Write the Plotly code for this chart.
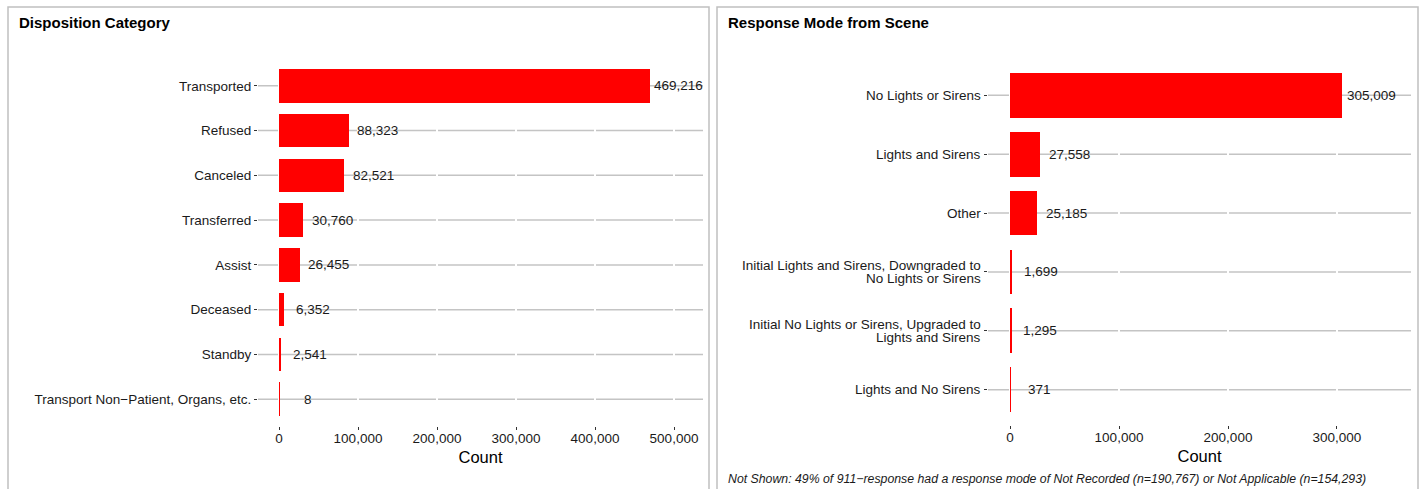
import plotly.graph_objects as go

# data
disp_cats = ["Transported", "Refused", "Canceled", "Transferred", "Assist",
             "Deceased", "Standby", "Transport Non\u2212Patient, Organs, etc."]
disp_counts = [469216, 88323, 82521, 30760, 26455, 6352, 2541, 8]

mode_cats = ["No Lights or Sirens", "Lights and Sirens", "Other",
             "Initial Lights and Sirens, Downgraded to<br>No Lights or Sirens",
             "Initial No Lights or Sirens, Upgraded to<br>Lights and Sirens",
             "Lights and No Sirens"]
mode_counts = [305009, 27558, 25185, 1699, 1295, 371]

disp_ticks = [0, 100000, 200000, 300000, 400000, 500000]
mode_ticks = [0, 100000, 200000, 300000]

caption = ("Not Shown: 49% of 911\u2212response had a response mode of "
           "Not Recorded (n=190,767) or Not Applicable (n=154,293)")

W, H = 1424, 489
FONT = "Liberation Sans, Arial, sans-serif"
GRID = "#c4c4c4"
TXT = "#1a1a1a"


def px(v):
    return v / W


def py(v):
    return 1 - v / H


fig = go.Figure()

fig.add_trace(go.Bar(y=disp_cats, x=disp_counts, orientation="h",
                     marker=dict(color="#ff0000", line=dict(width=0)),
                     width=0.75, xaxis="x", yaxis="y", hoverinfo="x+y"))
fig.add_trace(go.Bar(y=mode_cats, x=mode_counts, orientation="h",
                     marker=dict(color="#ff0000", line=dict(width=0)),
                     width=0.76, xaxis="x2", yaxis="y2", hoverinfo="x+y"))

annotations = []
for c, v in zip(disp_cats, disp_counts):
    annotations.append(dict(x=v, y=c, xref="x", yref="y", text=f"{v:,}",
                            showarrow=False, xanchor="center", xshift=29,
                            font=dict(size=13.5, color=TXT)))
for c, v in zip(mode_cats, mode_counts):
    annotations.append(dict(x=v, y=c, xref="x2", yref="y2", text=f"{v:,}",
                            showarrow=False, xanchor="center", xshift=29,
                            font=dict(size=13.5, color=TXT)))

# right panel category labels, one annotation per line for tighter spacing
for c in mode_cats:
    lines = c.split("<br>")
    n = len(lines)
    for i, line in enumerate(lines):
        annotations.append(dict(x=0, y=c, xref="x2 domain", yref="y2",
                                text=line, showarrow=False, xanchor="right",
                                yanchor="middle", xshift=-5,
                                yshift=((n - 1) / 2 - i) * 13.6,
                                font=dict(size=13.5, color=TXT)))

# panel titles and caption
annotations.append(dict(x=px(17), y=py(22), xref="paper", yref="paper",
                        text="<b>Disposition Category</b>", showarrow=False,
                        xanchor="left", yanchor="middle",
                        font=dict(size=15, color="#000")))
annotations.append(dict(x=px(726), y=py(22), xref="paper", yref="paper",
                        text="<b>Response Mode from Scene</b>", showarrow=False,
                        xanchor="left", yanchor="middle",
                        font=dict(size=15, color="#000")))
annotations.append(dict(x=px(726), y=py(479), xref="paper", yref="paper",
                        text=f"<i>{caption}</i>", showarrow=False,
                        xanchor="left", yanchor="middle",
                        font=dict(size=12.3, color=TXT)))

shapes = []
# panel borders
for x0, x1 in [(8, 709), (717, 1418)]:
    shapes.append(dict(type="rect", xref="paper", yref="paper",
                       x0=px(x0), x1=px(x1), y0=py(H + 20), y1=py(7),
                       line=dict(color="#c0c0c0", width=1.5),
                       fillcolor="rgba(0,0,0,0)", layer="below"))
# grey category lines, drawn under the white vertical grid
for c in disp_cats:
    shapes.append(dict(type="line", xref="x domain", yref="y", x0=0, x1=1,
                       y0=c, y1=c, line=dict(color=GRID, width=1.5),
                       layer="below"))
for c in mode_cats:
    shapes.append(dict(type="line", xref="x2 domain", yref="y2", x0=0, x1=1,
                       y0=c, y1=c, line=dict(color=GRID, width=1.5),
                       layer="below"))

axis_common = dict(showline=False, zeroline=False, ticks="outside",
                   ticklen=3, tickwidth=1, tickcolor="#333",
                   tickfont=dict(size=13.5, color=TXT))

fig.update_layout(
    width=W, height=H, autosize=False,
    margin=dict(l=0, r=0, t=0, b=0),
    paper_bgcolor="white", plot_bgcolor="rgba(0,0,0,0)",
    font=dict(family=FONT, color=TXT),
    showlegend=False,
    bargap=0,
    xaxis=dict(domain=[px(258), px(703)], range=[-26600, 536700],
               tickvals=disp_ticks, tickformat=",", showgrid=True,
               gridcolor="white", gridwidth=2, anchor="y",
               ticklabelstandoff=-3,
               title=dict(text="Count", font=dict(size=16.5, color="#000"),
                          standoff=6),
               **axis_common),
    yaxis=dict(domain=[py(426), py(59)], range=[7.6, -0.6],
               type="category", categoryorder="array",
               categoryarray=disp_cats, showgrid=False, anchor="x",
               **axis_common),
    xaxis2=dict(domain=[px(988), px(1411)], range=[-20200, 367900],
                tickvals=mode_ticks, tickformat=",", showgrid=True,
                gridcolor="white", gridwidth=2, anchor="y2",
                ticklabelstandoff=-3,
                title=dict(text="Count", font=dict(size=16.5, color="#000"),
                           standoff=6),
                **axis_common),
    yaxis2=dict(domain=[py(425), py(60)], range=[5.6, -0.6],
                type="category", categoryorder="array",
                categoryarray=mode_cats, showgrid=False, anchor="x2",
                showticklabels=False, **axis_common),
    annotations=annotations,
    shapes=shapes,
)

fig.write_html("out.html", config={"displayModeBar": False},
               post_script="document.body.style.margin = '0';")
